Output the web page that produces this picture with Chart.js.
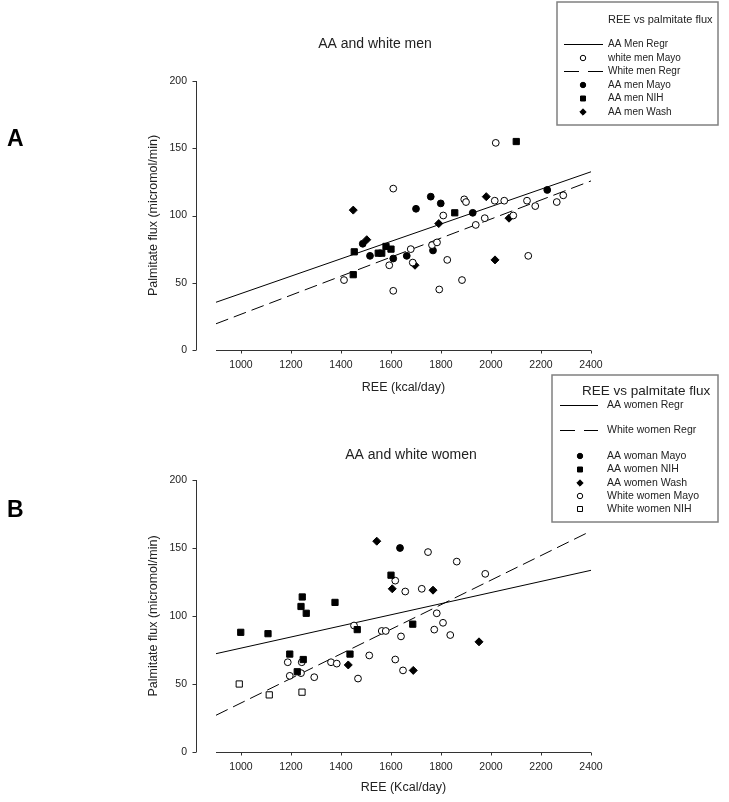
<!DOCTYPE html>
<html>
<head>
<meta charset="utf-8">
<title>REE vs palmitate flux</title>
<script src="https://cdn.jsdelivr.net/npm/chart.js@4.4.1/dist/chart.umd.min.js"></script>
<style>
  body { margin: 0; background: #fff; }
  #wrap { position: relative; width: 729px; height: 802px; font-family: "Liberation Sans", Arial, sans-serif; }
  #wrap canvas { position: absolute; left: 0; top: 0; }
  .panel { position: absolute; font-weight: bold; font-size: 23px; color: #000; line-height: 1; }
</style>
</head>
<body>
<div id="wrap">
  <canvas id="chartA" width="729" height="802"></canvas>
  <canvas id="chartB" width="729" height="802"></canvas>
  <div class="panel" style="left:7px;top:127px">A</div>
  <div class="panel" style="left:7px;top:498px">B</div>
</div>
<script>
// axis ticks
const xTicks = [1000, 1200, 1400, 1600, 1800, 2000, 2200, 2400];
const yTicks = [0, 50, 100, 150, 200];

// A: men  [REE, palmitate flux]
const aaMenMayo = [[1487, 79], [1516, 70], [1609, 68], [1663, 70], [1700, 105], [1759, 114], [1768, 74], [1799, 109], [1927, 102], [2225, 119]];
const aaMenNih = [[1449, 56], [1453, 73], [1549, 72], [1563, 72], [1580, 77], [1600, 75], [1855, 102], [2101, 155]];
const aaMenWash = [[1449, 104], [1503, 82], [1696, 63], [1791, 94], [1981, 114], [2016, 67], [2072, 98]];
const whiteMenMayo = [[1412, 52], [1593, 63], [1609, 120], [1609, 44], [1679, 75], [1687, 65], [1764, 78], [1784, 80],
  [1793, 45], [1809, 100], [1825, 67], [1884, 52], [1893, 112], [1900, 110], [1939, 93], [1975, 98], [2015, 111],
  [2019, 154], [2053, 111], [2089, 100], [2144, 111], [2149, 70], [2177, 107], [2263, 110], [2289, 115]];
const aaMenRegr = [[900, 35.5], [2400, 132.5]];
const whiteMenRegr = [[900, 19.5], [2400, 125.7]];

// B: women
const aaWomanMayo = [[1636, 150]];
const aaWomenNih = [[999, 88], [1108, 87], [1195, 72], [1225, 59], [1240, 107], [1245, 114], [1249, 68], [1261, 102],
  [1376, 110], [1436, 72], [1465, 90], [1600, 130], [1687, 94]];
const aaWomenWash = [[1429, 64], [1543, 155], [1605, 120], [1689, 60], [1768, 119], [1952, 81]];
const whiteWomenMayo = [[1187, 66], [1195, 56], [1240, 58], [1243, 66], [1293, 55], [1360, 66], [1383, 65], [1452, 93],
  [1468, 54], [1513, 71], [1563, 89], [1579, 89], [1617, 126], [1617, 68], [1640, 85], [1648, 60], [1657, 118],
  [1723, 120], [1748, 147], [1773, 90], [1783, 102], [1808, 95], [1837, 86], [1863, 140], [1977, 131]];
const whiteWomenNih = [[993, 50], [1113, 42], [1244, 44]];
const aaWomenRegr = [[900, 72.3], [2400, 133.6]];
const whiteWomenRegr = [[900, 27], [2400, 162.5]];

const FONT = '"Liberation Sans", Arial, sans-serif';
const INK = '#222';

function pts(arr) {
    return arr.map(([x, y]) => ({ x, y }));
}

// marker datasets
function marks(label, arr, style, filled, radius) {
    return {
        type: 'scatter',
        label: label,
        data: pts(arr),
        pointStyle: style,
        pointRadius: radius,
        pointHoverRadius: radius,
        pointBorderWidth: 1,
        borderColor: '#000',
        backgroundColor: filled ? '#000' : '#fff'
    };
}

// regression line datasets
function regr(label, arr, dashed) {
    return {
        type: 'line',
        label: label,
        data: pts(arr),
        borderColor: '#000',
        borderWidth: 1,
        borderDash: dashed ? [13, 6] : [],
        pointRadius: 0,
        fill: false
    };
}

function drawMark(ctx, ds, x, y, r) {
    ctx.beginPath();
    if (ds.pointStyle === 'rect') {
        const s = r * Math.SQRT1_2;
        ctx.rect(x - s, y - s, 2 * s, 2 * s);
    } else if (ds.pointStyle === 'rectRot') {
        ctx.moveTo(x, y - r);
        ctx.lineTo(x + r, y);
        ctx.lineTo(x, y + r);
        ctx.lineTo(x - r, y);
        ctx.closePath();
    } else {
        ctx.arc(x, y, r, 0, Math.PI * 2);
    }
    ctx.fillStyle = ds.backgroundColor;
    ctx.fill();
    ctx.lineWidth = 1;
    ctx.strokeStyle = '#000';
    ctx.stroke();
}

// detached axes, panel title and the boxed legend
const framePlugin = {
    id: 'frame',
    afterDraw(chart, args, opts) {
        const ctx = chart.ctx;
        const xs = chart.scales.x;
        const ys = chart.scales.y;
        const area = chart.chartArea;
        ctx.save();

        ctx.strokeStyle = '#333';
        ctx.lineWidth = 1;
        ctx.beginPath();
        const yAx = Math.round(area.bottom) + 0.5;
        ctx.moveTo(xs.getPixelForValue(xs.min), yAx);
        ctx.lineTo(xs.getPixelForValue(xs.max), yAx);
        xs.ticks.forEach(t => {
            const p = Math.round(xs.getPixelForValue(t.value)) + 0.5;
            ctx.moveTo(p, yAx);
            ctx.lineTo(p, yAx + 3);
        });
        const xAx = Math.round(area.left - opts.yGap) + 0.5;
        ctx.moveTo(xAx, ys.getPixelForValue(ys.min));
        ctx.lineTo(xAx, ys.getPixelForValue(ys.max));
        ys.ticks.forEach(t => {
            const p = Math.round(ys.getPixelForValue(t.value)) + 0.5;
            ctx.moveTo(xAx - 4, p);
            ctx.lineTo(xAx, p);
        });
        ctx.stroke();

        // panel title
        ctx.fillStyle = INK;
        ctx.textAlign = 'center';
        ctx.textBaseline = 'middle';
        ctx.font = opts.title.size + 'px ' + FONT;
        ctx.fillText(opts.title.text, opts.title.x, opts.title.y);

        // legend
        const lg = opts.legend;
        ctx.strokeStyle = '#808080';
        ctx.lineWidth = 1.5;
        ctx.strokeRect(lg.box[0], lg.box[1], lg.box[2] - lg.box[0], lg.box[3] - lg.box[1]);
        ctx.textAlign = 'left';
        ctx.fillStyle = INK;
        ctx.font = lg.title.size + 'px ' + FONT;
        ctx.fillText(lg.title.text, lg.title.x, lg.title.y);
        lg.rows.forEach(([label, y]) => {
            const ds = chart.data.datasets.find(d => d.label === label);
            if (ds.type === 'line') {
                ctx.beginPath();
                ctx.setLineDash(ds.borderDash.length ? [15, 9] : []);
                ctx.strokeStyle = '#000';
                ctx.lineWidth = 1;
                ctx.moveTo(lg.lineX[0], y + 0.5);
                ctx.lineTo(lg.lineX[1], y + 0.5);
                ctx.stroke();
                ctx.setLineDash([]);
            } else {
                drawMark(ctx, ds, lg.symX, y, ds.pointRadius * 0.8);
            }
            ctx.fillStyle = INK;
            ctx.font = lg.size + 'px ' + FONT;
            ctx.fillText(label, lg.textX, y);
        });
        ctx.restore();
    }
};

function makeChart(id, datasets, cfg) {
    return new Chart(document.getElementById(id), {
        data: { datasets: datasets },
        plugins: [framePlugin],
        options: {
            responsive: false,
            animation: false,
            devicePixelRatio: 1,
            layout: { padding: cfg.padding },
            plugins: {
                legend: { display: false },
                tooltip: { enabled: false },
                frame: cfg.frame
            },
            scales: {
                x: {
                    type: 'linear',
                    min: 900,
                    max: 2400,
                    afterBuildTicks: s => { s.ticks = xTicks.map(v => ({ value: v })); },
                    afterFit: s => { s.height = 50; },
                    grid: { display: false, drawTicks: false },
                    border: { display: false },
                    ticks: { padding: 9, color: INK, font: { size: 10.5, family: FONT }, callback: v => String(v) },
                    title: {
                        display: true,
                        text: cfg.xTitle,
                        color: INK,
                        font: { size: 12.5, family: FONT },
                        padding: { top: 0, bottom: cfg.xTitlePad }
                    }
                },
                y: {
                    type: 'linear',
                    min: 0,
                    max: 200,
                    afterBuildTicks: s => { s.ticks = yTicks.map(v => ({ value: v })); },
                    afterFit: s => { s.width = 216; },
                    grid: { display: false, drawTicks: false },
                    border: { display: false },
                    ticks: { padding: 29, color: INK, font: { size: 10.5, family: FONT }, callback: v => String(v) },
                    title: {
                        display: true,
                        text: 'Palmitate flux (micromol/min)',
                        color: INK,
                        font: { size: 12.5, family: FONT },
                        padding: { top: 146, bottom: 0 }
                    }
                }
            }
        }
    });
}

makeChart('chartA', [
    marks('white men Mayo', whiteMenMayo, 'circle', false, 3.4),
    marks('AA men Mayo', aaMenMayo, 'circle', true, 3.4),
    marks('AA men NIH', aaMenNih, 'rect', true, 4.4),
    marks('AA men Wash', aaMenWash, 'rectRot', true, 4),
    regr('AA Men Regr', aaMenRegr, false),
    regr('White men Regr', whiteMenRegr, true)
], {
    padding: { left: 0, top: 81, right: 138, bottom: 402 },
    xTitle: 'REE (kcal/day)',
    xTitlePad: 5,
    frame: {
        yGap: 20,
        title: { text: 'AA and white men', x: 375, y: 44, size: 14 },
        legend: {
            box: [557, 2, 718, 125],
            title: { text: 'REE vs palmitate flux', x: 608, y: 20, size: 11 },
            textX: 608, symX: 583, lineX: [564, 603], size: 10,
            rows: [['AA Men Regr', 44], ['white men Mayo', 58], ['White men Regr', 71],
                   ['AA men Mayo', 85], ['AA men NIH', 98.5], ['AA men Wash', 112]]
        }
    }
});

makeChart('chartB', [
    marks('AA woman Mayo', aaWomanMayo, 'circle', true, 3.4),
    marks('AA women NIH', aaWomenNih, 'rect', true, 4.4),
    marks('AA women Wash', aaWomenWash, 'rectRot', true, 4),
    marks('White women Mayo', whiteWomenMayo, 'circle', false, 3.4),
    marks('White women NIH', whiteWomenNih, 'rect', false, 4.4),
    regr('AA women Regr', aaWomenRegr, false),
    regr('White women Regr', whiteWomenRegr, true)
], {
    padding: { left: 0, top: 480, right: 138, bottom: 0 },
    xTitle: 'REE (Kcal/day)',
    xTitlePad: 7,
    frame: {
        yGap: 20,
        title: { text: 'AA and white women', x: 411, y: 455, size: 14 },
        legend: {
            box: [552, 375, 718, 522],
            title: { text: 'REE vs palmitate flux', x: 582, y: 391, size: 13.5 },
            textX: 607, symX: 580, lineX: [560, 598], size: 10.5,
            rows: [['AA women Regr', 405], ['White women Regr', 430], ['AA woman Mayo', 456],
                   ['AA women NIH', 469.5], ['AA women Wash', 483], ['White women Mayo', 496], ['White women NIH', 509]]
        }
    }
});
</script>
</body>
</html>
